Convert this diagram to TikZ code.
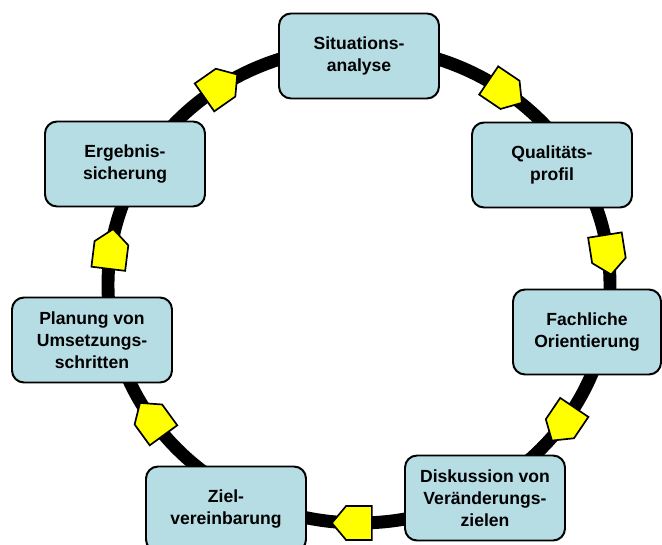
\documentclass[tikz,border=0pt]{standalone}
\usepackage{fontspec}
\setmainfont{Liberation Sans}
\usepackage{tikz}
\usetikzlibrary{shapes.symbols}
\definecolor{boxblue}{RGB}{182,221,228}
\definecolor{markyellow}{RGB}{255,255,0}
\tikzstyle{stage}=[rectangle,rounded corners=0.3cm,draw=black,line width=1.4pt,
fill=boxblue,minimum width=4cm,minimum height=2.125cm,align=center,
font=\fontsize{12.5}{15.5}\selectfont\bfseries]
\tikzstyle{marker}=[signal,signal to=east,signal pointer angle=100,draw=black,
line width=1.2pt,fill=markyellow,minimum width=1.0cm,minimum height=0.85cm,inner sep=0pt]
\tikzstyle{ring}=[line width=9.2pt,black]

\begin{document}
\begin{tikzpicture}
			\useasboundingbox (-8.975,-6.475) rectangle (7.575,7.125);
			\coordinate (c) at (0,0);

			% ring
			\draw[ring] (c) ellipse [x radius=6.275cm, y radius=5.95cm];

			% direction markers
			\node[marker,rotate=-34] (m1) at (56:6.275cm and 5.95cm) {};
			\node[marker,rotate=-81] (m2) at (9:6.275cm and 5.95cm) {};
			\node[marker,rotate=-124] (m3) at (-34:6.275cm and 5.95cm) {};
			\node[marker,rotate=180] (m4) at (-90:6.275cm and 5.95cm) {};
			\node[marker,rotate=126] (m5) at (-144:6.275cm and 5.95cm) {};
			\node[marker,rotate=83] (m6) at (173:6.275cm and 5.95cm) {};
			\node[marker,rotate=35] (m7) at (125:6.275cm and 5.95cm) {};

			% stages
			\node[stage] (sit) at (0,5.725) {Situations-\\analyse};
			\node[stage] (qual) at (4.825,3.0) {Qualitäts-\\profil};
			\node[stage,minimum width=3.7cm] (fach) at (5.7,-1.175) {Fachliche\\Orientierung};
			\node[stage] (disk) at (3.15,-5.325) {Diskussion von\\Veränderungs-\\zielen};
			\node[stage] (ziel) at (-3.325,-5.6) {Ziel-\\vereinbarung};
			\node[stage] (plan) at (-6.675,-1.375) {Planung von\\Umsetzungs-\\schritten};
			\node[stage] (erg) at (-5.85,3.025) {Ergebnis-\\sicherung};
		\end{tikzpicture}
\end{document}
